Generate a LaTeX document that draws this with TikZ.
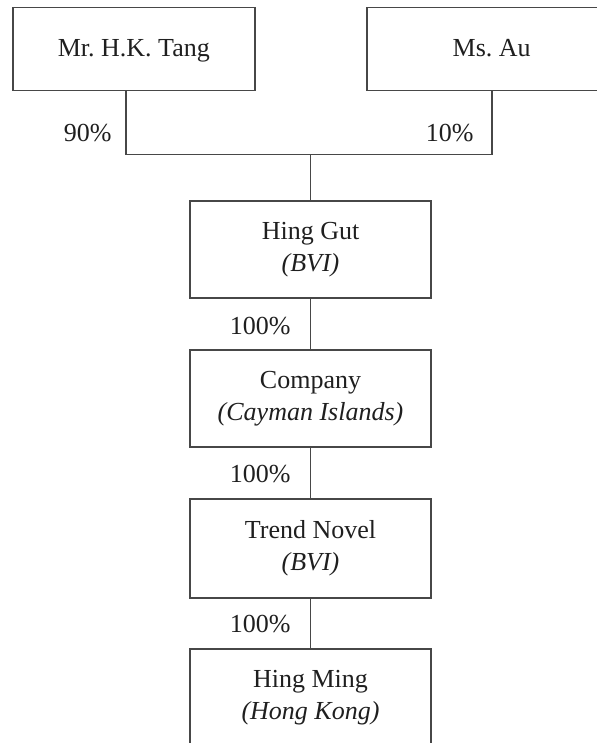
\documentclass[tikz,border=0pt]{standalone}
\usepackage{fontspec}
\setmainfont{Liberation Serif}
\frenchspacing
\begin{document}
\begin{tikzpicture}[x=0.5pt,y=-0.5pt,
  every node/.style={font=\fontsize{13}{16}\selectfont, text=black!88},
  box/.style={draw=black!72, line width=0.9pt, rectangle, inner sep=0pt, align=center},
  conn/.style={draw=black!72, line width=0.9pt},
  pct/.style={anchor=east, inner sep=0pt}]
\useasboundingbox (0,0) rectangle (597,743);
\clip (0,0) rectangle (597,743);
\node[box, text height=9pt, text depth=1pt, minimum width=242.3*0.5pt, minimum height=83*0.5pt] (tang) at (133.8,49) {Mr. H.K. Tang};
\node[box, text height=9pt, text depth=1pt, minimum width=250*0.5pt, minimum height=83*0.5pt] (au) at (491.7,49) {Ms. Au};
\node[box, minimum width=241.7*0.5pt, minimum height=97.6*0.5pt] (hg) at (310.5,249.5) {Hing Gut\\\textit{(BVI)}};
\node[box, minimum width=241.7*0.5pt, minimum height=97*0.5pt] (co) at (310.5,398.5) {Company\\\textit{(Cayman Islands)}};
\node[box, minimum width=241.7*0.5pt, minimum height=98.4*0.5pt] (tn) at (310.5,548.5) {Trend Novel\\\textit{(BVI)}};
\node[box, minimum width=241.7*0.5pt, minimum height=97.6*0.5pt] (hm) at (310.5,697.8) {Hing Ming\\\textit{(Hong Kong)}};
\coordinate (tl) at (126,154.5);
\coordinate (al) at (491.7,154.5);
\coordinate (j) at (hg.north |- tl);
\draw[conn] (tang.south -| tl) -- (tl) -- (al) -- (au.south);
\draw[conn] (j) -- (hg.north);
\draw[conn] (hg.south) -- (co.north);
\draw[conn] (co.south) -- (tn.north);
\draw[conn] (tn.south) -- (hm.north);
\node[pct] (p90) at (112,133) {90\%};
\node[pct] (p10) at (474,133) {10\%};
\node[pct] (p1) at (291,326) {100\%};
\node[pct] (p2) at (291,474) {100\%};
\node[pct] (p3) at (291,624) {100\%};
\end{tikzpicture}
\end{document}
